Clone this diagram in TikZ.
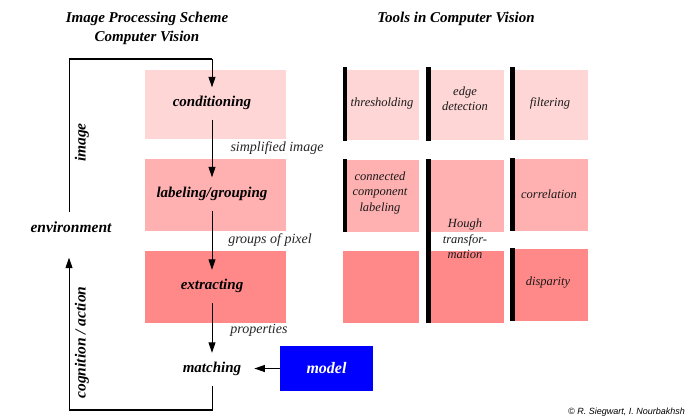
\documentclass[tikz,border=0pt]{standalone}
\usepackage{fontspec}
\setmainfont{Liberation Serif}
\setsansfont{Liberation Sans}
\usetikzlibrary{arrows.meta}

\definecolor{stageA}{RGB}{255,214,214}
\definecolor{stageB}{RGB}{255,176,176}
\definecolor{stageC}{RGB}{255,136,136}
\definecolor{modelblue}{RGB}{0,0,255}

\tikzset{
  title/.style={font=\bfseries\itshape\fontsize{15}{18}\selectfont, inner sep=0pt},
  stagebox/.style={rectangle, inner sep=0pt, draw=none},
  stagetext/.style={font=\bfseries\itshape\fontsize{15}{18}\selectfont, inner sep=0pt,
    text height=10pt, text depth=3pt},
  sidetext/.style={font=\bfseries\itshape\fontsize{15.5}{18}\selectfont, inner sep=0pt,
    text height=10pt, text depth=3pt},
  edgetext/.style={font=\itshape\fontsize{14}{16}\selectfont, text=black!85, inner sep=0pt},
  tooltext/.style={font=\itshape\fontsize{12.5}{15.5}\selectfont, text=black!90,
    inner sep=0pt, align=center},
  toolbox/.style={rectangle, inner sep=0pt, draw=none, anchor=north west},
  bar/.style={fill=black},
  flow/.style={line width=1pt, -{Triangle[length=10.5pt,width=7pt]}},
  plain/.style={line width=1pt},
  modelbox/.style={rectangle, fill=modelblue, inner sep=0pt, minimum width=93pt,
    minimum height=45pt, text=white, font=\bfseries\itshape\fontsize{16}{18}\selectfont}
}

\begin{document}
\begin{tikzpicture}[x=1pt, y=-1pt]
\useasboundingbox (0,0) rectangle (686,418);
\fill[white] (0,0) rectangle (686,418);

% headings
\node[title] (h1) at (147,19) {Image Processing Scheme};
\node[title] (h2) at (147,37.5) {Computer Vision};
\node[title] (h3) at (456,19) {Tools in Computer Vision};

% processing stages (background blocks)
\node[stagebox, fill=stageA, minimum width=141pt, minimum height=69pt, anchor=north west] (condbox) at (145,70) {};
\node[stagebox, fill=stageB, minimum width=141pt, minimum height=72pt, anchor=north west] (labbox) at (145,159) {};
\node[stagebox, fill=stageC, minimum width=141pt, minimum height=72pt, anchor=north west] (extbox) at (145,251) {};

% stage names
\node[stagetext] (cond) at (212,103) {conditioning};
\node[stagetext] (lab) at (212,194) {labeling/grouping};
\node[stagetext] (ext) at (212,286) {extracting};
\node[stagetext] (match) at (212,369) {matching};

% data passed between stages
\draw[flow, shorten <=10pt, shorten >=10pt] (cond) -- (lab);
\draw[flow, shorten <=10.5pt, shorten >=9.5pt] (lab) -- (ext);
\draw[flow, shorten <=10.5pt, shorten >=9.5pt] (ext) -- (match);
\node[edgetext] (e1) at (277,148) {simplified image};
\node[edgetext] (e2) at (270,240) {groups of pixel};
\node[edgetext] (e3) at (259,330) {properties};

% model
\node[modelbox] (model) at (326.5,368.5) {model};
\draw[flow, shorten >=13pt] (model.west) -- (model.west -| match.east);

% environment loop
\node[sidetext] (env) at (71,229) {environment};
\coordinate (tl) at (69,59);
\coordinate (bl) at (69,410);
\draw[plain] ([yshift=10.5pt]env.north -| tl) -- (tl);
\draw[line width=2pt] ([xshift=-0.5pt]tl) -- (tl -| cond);
\draw[flow, shorten >=9pt] (tl -| cond) -- (cond);
\draw[plain] ([yshift=-10pt]match.south) -- (match |- bl);
\draw[line width=2.5pt] ([xshift=0.5pt]match |- bl) -- (bl);
\draw[flow, shorten >=22pt] (bl) -- (bl |- env.south);
\node[sidetext, rotate=90] (img) at (82,142.5) {image};
\node[sidetext, rotate=90] (cog) at (82,342.5) {cognition / action};

% tools grid
\node[toolbox, fill=stageA, minimum width=72pt, minimum height=70pt] (thr) at (347,70) {};
\node[toolbox, fill=stageA, minimum width=73pt, minimum height=70pt] (edge) at (431,70) {};
\node[toolbox, fill=stageA, minimum width=73pt, minimum height=70pt] (filt) at (515,70) {};
\node[toolbox, fill=stageB, minimum width=72pt, minimum height=72pt] (ccl) at (347,160) {};
\node[toolbox, fill=stageB, minimum width=73pt, minimum height=72pt] (hougha) at (431,160) {};
\node[toolbox, fill=stageB, minimum width=73pt, minimum height=72pt] (corr) at (515,159) {};
\node[toolbox, fill=stageC, minimum width=76pt, minimum height=72pt] (blank) at (343,251) {};
\node[toolbox, fill=stageC, minimum width=73pt, minimum height=72pt] (houghb) at (431,251) {};
\node[toolbox, fill=stageC, minimum width=73pt, minimum height=72pt] (disp) at (515,249) {};

% black bars on the left of the tool blocks
\fill[bar] (343,67) rectangle (347,141);
\fill[bar] (426,67) rectangle (431,141);
\fill[bar] (510,67) rectangle (515,140);
\fill[bar] (343,159) rectangle (347,232);
\fill[bar] (426,159) rectangle (431,323);
\fill[bar] (510,158) rectangle (515,231);
\fill[bar] (510,248) rectangle (515,321);

% tool names
\node[tooltext] (t1) at (382,103) {thresholding};
\node[tooltext] (t2) at (465,98.5) {edge\\detection};
\node[tooltext] (t3) at (550,103) {filtering};
\node[tooltext] (t4) at (380,192.5) {connected\\component\\labeling};
\node[tooltext] (t5) at (465,239) {Hough\\transfor-\\mation};
\node[tooltext] (t6) at (549,194) {correlation};
\node[tooltext] (t7) at (548,283) {disparity};

% credit line
\node[font=\sffamily\itshape\fontsize{9}{11}\selectfont, anchor=east, inner sep=0pt] (credit) at (685,412) {© R. Siegwart, I. Nourbakhsh};
\end{tikzpicture}
\end{document}
